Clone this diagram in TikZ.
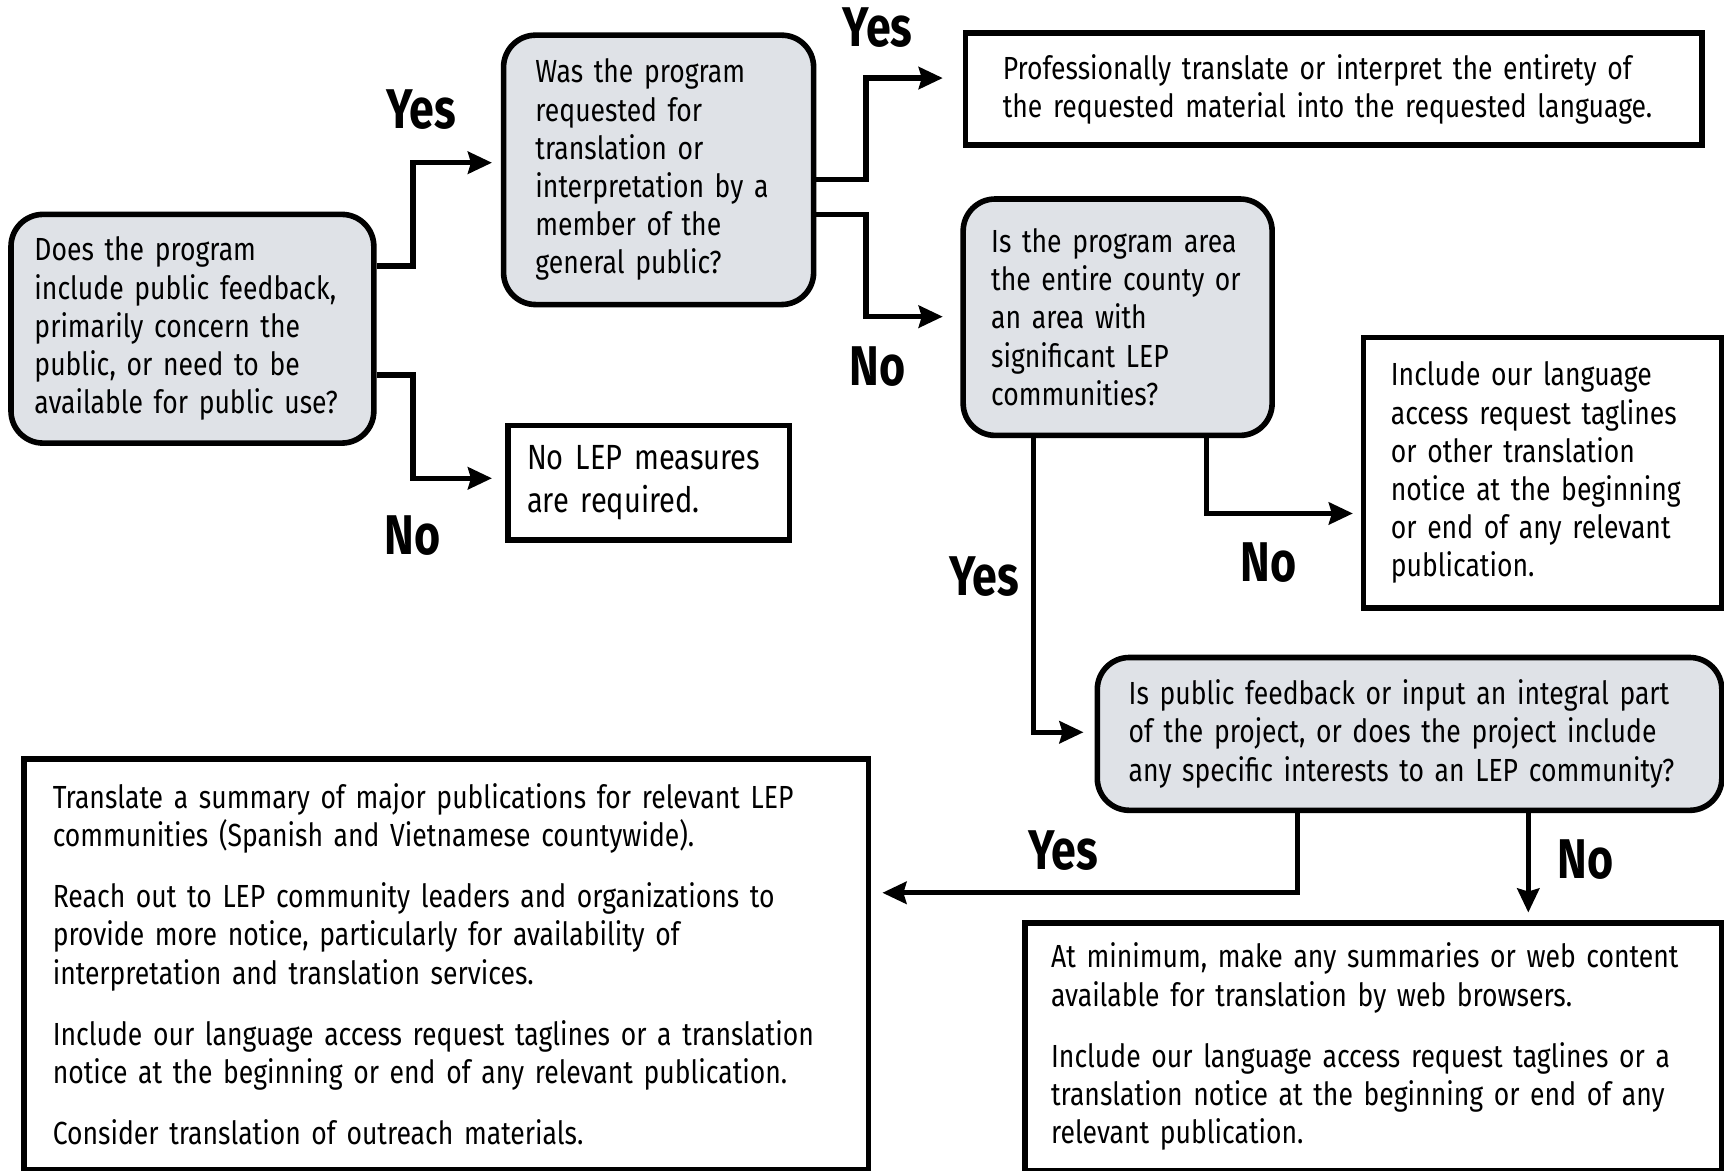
\documentclass[tikz,border=0pt]{standalone}
\usepackage{fontspec}
\setmainfont{Fira Sans}[FakeStretch=0.83]
\newfontfamily\answerfont{Fira Sans}[FakeStretch=0.8]
\usetikzlibrary{calc,arrows.meta}
\definecolor{askgray}{RGB}{223,226,231}

\begin{document}
\begin{tikzpicture}[x=0.55pt, y=-0.55pt,
	box/.style={draw, line width=2.8pt, align=left, inner sep=0pt, font=\fontsize{16}{19.1}\selectfont},
	ask/.style={box, fill=askgray, rounded corners=16pt},
	flow/.style={line width=2.6pt, -{Stealth[length=12pt, width=11pt, inset=1.5pt]}},
	answer/.style={font=\answerfont\bfseries\fontsize{28}{30}\selectfont}]
	\useasboundingbox (0,0) rectangle (1568,1065);

	% questions
	\node [ask, minimum width=181.5pt, minimum height=114.4pt, text width=158pt] (public) at (175,299)
	{Does the program\\ include public feedback,\\ primarily concern the\\ public, or need to be\\ available for public use?};
	\node [ask, minimum width=155.1pt, minimum height=134.75pt, text width=123.2pt] (request) at (599,154.5)
	{Was the program\\ requested for\\ translation or\\ interpretation by a\\ member of the\\ general public?};
	\node [ask, minimum width=154.55pt, minimum height=118.25pt, text width=126.5pt] (area) at (1016.5,288.5)
	{Is the program area\\ the entire county or\\ an area with\\ significant LEP\\ communities?};
	\node [ask, minimum width=312.4pt, minimum height=76.45pt, text width=281pt] (integral) at (1282,667.5)
	{Is public feedback or input an integral part\\ of the project, or does the project include\\ any specific interests to an LEP community?};

	% answers
	\node [box, minimum width=368.5pt, minimum height=56.1pt, text width=331.1pt] (full) at (1213,81)
	{Professionally translate or interpret the entirety of\\ the requested material into the requested language.};
	\node [box, minimum width=140.8pt, minimum height=57.2pt, text width=121.6pt, font=\fontsize{17.5}{22}\selectfont] (nomeasures) at (590,439)
	{No LEP measures\\ are required.};
	\node [box, minimum width=179.3pt, minimum height=135.3pt, text width=151.8pt] (taglines) at (1403,430)
	{Include our language\\ access request taglines\\ or other translation\\ notice at the beginning\\ or end of any relevant\\ publication.};
	\node [box, minimum width=422.4pt, minimum height=205.15pt, text width=393.8pt] (outreach) at (406,877)
	{Translate a summary of major publications for relevant LEP\\ communities (Spanish and Vietnamese countywide).\\[11.5pt]
	Reach out to LEP community leaders and organizations to\\ provide more notice, particularly for availability of\\ interpretation and translation services.\\[11.5pt]
	Include our language access request taglines or a translation\\ notice at the beginning or end of any relevant publication.\\[11.5pt]
	Consider translation of outreach materials.};
	\node [box, minimum width=348.7pt, minimum height=123.75pt, text width=322.3pt] (minimum) at (1249,952)
	{At minimum, make any summaries or web content\\ available for translation by web browsers.\\[11.5pt]
	Include our language access request taglines or a\\ translation notice at the beginning or end of any\\ relevant publication.};

	\draw [flow] ($(public.east)+(0,-57)$) -- ++(33,0) |- ($(request.west)+(-8,-6.5)$);
	\draw [flow] ($(public.east)+(0,42)$) -- ++(33,0) |- ($(nomeasures.west)+(-12,-4)$);
	\draw [flow] ($(request.east)+(0,8.5)$) -- ++(45,0) |- ($(full.west)+(-18,-10)$);
	\draw [flow] ($(request.east)+(0,40.5)$) -- ++(45,0) |- ($(area.west)+(-16,-0.5)$);
	\draw [flow] ($(area.south)+(80.5,0)$) |- ($(taglines.west)+(-7,37)$);
	\draw [flow] ($(area.south)+(-76.5,0)$) |- ($(integral.west)+(-10,-1.5)$);
	\draw [flow] ($(integral.south)+(-102,0)$) |- ($(outreach.east)+(10,-65)$);
	\draw [flow] ($(integral.south)+(108,0)$) -- ($(minimum.north)+(141,-7)$);

	\node [answer] (yesrequest) at (383,100) {Yes};
	\node [answer] (nomeasure) at (375,487) {No};
	\node [answer] (yesfull) at (798,25) {Yes};
	\node [answer] (noarea) at (798,333) {No};
	\node [answer] (yesintegral) at (895,524) {Yes};
	\node [answer] (notaglines) at (1154,512) {No};
	\node [answer] (yesoutreach) at (967,774) {Yes};
	\node [answer] (nominimum) at (1442,782) {No};
\end{tikzpicture}
\end{document}
